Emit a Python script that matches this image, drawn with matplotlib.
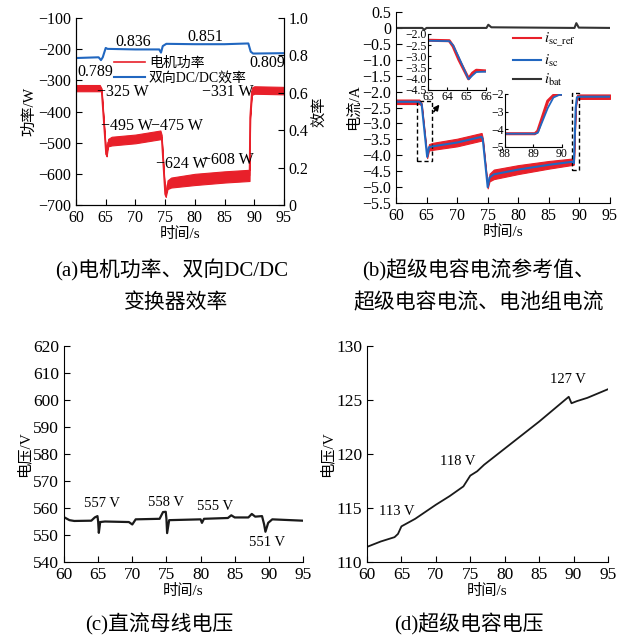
import matplotlib
matplotlib.use('Agg')
import matplotlib.pyplot as plt
from matplotlib.patches import Rectangle

plt.rcParams['font.family'] = ['Liberation Serif', 'Noto Sans CJK SC']
plt.rcParams['mathtext.fontset'] = 'stix'
plt.rcParams['axes.unicode_minus'] = True
plt.rcParams['xtick.direction'] = 'in'
plt.rcParams['ytick.direction'] = 'in'

RED = '#e8202a'
BLUE = '#2167c0'
DARK = '#333333'

# (a) motor power and DC/DC efficiency
t_pow = [60, 64.0, 64.3, 65.05, 65.15, 65.4, 66, 70, 74.2, 74.4, 75.0, 75.1, 75.4, 76, 80, 85, 89.2, 89.3, 89.6, 90, 95]
p_mot = [-325, -325, -330, -535, -540, -500, -495, -488, -475, -478, -665, -670, -635, -628, -618, -610, -605, -420, -335, -331, -333]
p_band = [10, 10, 4, 4, 4, 12, 14, 14, 14, 4, 4, 4, 14, 16, 18, 18, 18, 4, 12, 12, 12]
t_eff = [60, 63.8, 64.2, 64.5, 65.0, 65.3, 70, 74.0, 74.3, 74.6, 75.2, 80, 85, 89.0, 89.4, 89.8, 95]
eff = [0.786, 0.79, 0.775, 0.79, 0.84, 0.835, 0.832, 0.832, 0.815, 0.85, 0.862, 0.86, 0.86, 0.864, 0.82, 0.81, 0.812]

# (b) currents
t_cur = [60, 63.8, 64.2, 65.1, 65.4, 66, 70, 74.0, 74.2, 75.0, 75.3, 76, 80, 85, 89.0, 89.1, 89.4, 89.6, 90, 95]
i_sc = [-2.32, -2.32, -2.4, -4.05, -3.75, -3.72, -3.6, -3.42, -3.5, -5.0, -4.7, -4.6, -4.45, -4.3, -4.2, -4.25, -2.5, -2.18, -2.16, -2.16]
i_band = [0.07, 0.07, 0.04, 0.04, 0.1, 0.11, 0.12, 0.12, 0.04, 0.04, 0.12, 0.15, 0.14, 0.12, 0.1, 0.04, 0.04, 0.07, 0.07, 0.07]
t_bat = [60, 64.3, 64.6, 65.0, 74.8, 75.1, 75.6, 89.2, 89.5, 89.9, 95]
i_bat = [0, 0, -0.06, 0, 0, 0.1, 0.02, 0, 0.15, 0.01, 0]

t_in1 = [63, 64.1, 64.3, 64.6, 65.1, 65.3, 65.5, 66]
i_sc_in1 = [-2.3, -2.32, -2.5, -3.05, -4.02, -3.85, -3.7, -3.68]
i_ref_in1 = [-2.28, -2.3, -2.55, -3.15, -4.0, -3.75, -3.62, -3.65]
t_in2 = [88, 89.05, 89.15, 89.5, 89.7, 89.9, 90]
i_sc_in2 = [-4.25, -4.25, -4.2, -2.8, -2.2, -2.05, -2.05]
i_ref_in2 = [-4.25, -4.25, -4.1, -2.4, -2.08, -2.02, -2.02]

# (c) DC bus voltage
t_bus = [60, 60.8, 61.5, 64, 64.5, 64.9, 65.0, 65.1, 65.3, 66, 69.5, 70, 70.5, 74, 74.5, 74.9, 75.0, 75.1, 75.4,
         80, 80.2, 80.5, 84, 84.5, 85, 87, 87.5, 88, 89, 89.3, 89.5, 89.9, 90.5, 95]
v_bus = [556.6, 555.5, 555.2, 555.3, 556.5, 557, 555, 550.8, 554.8, 555, 554.8, 553.9, 555.8, 556, 558.5, 558.6, 556, 550.7, 555.5,
         555.8, 554.5, 556, 556.3, 557.3, 556.5, 556.5, 557.8, 556.8, 557, 554, 551.2, 554.5, 555.8, 555.3]

# (d) supercapacitor voltage
t_uc = [60, 62, 64, 64.5, 65, 67, 70, 72, 74, 75, 76, 77, 80, 85, 89.3, 89.7, 90.5, 92, 95]
v_uc = [111.4, 111.9, 112.3, 112.6, 113.3, 114.0, 115.3, 116.1, 117.0, 118.0, 118.4, 119.0, 120.5, 123.0, 125.3, 124.7, 124.9, 125.2, 126.0]

xt = [60, 65, 70, 75, 80, 85, 90, 95]
FS = 11.5    # ticks in (a), (b)
FS2 = 12.5   # ticks in (c), (d)
LS = 11      # axis labels

fig = plt.figure(figsize=(6.19, 6.39), dpi=100)


def style(ax, fs, right=False):
    ax.spines['top'].set_visible(False)
    if not right:
        ax.spines['right'].set_visible(False)
    ax.tick_params(labelsize=fs, length=4, width=0.8)
    ax.set_xlim(60, 95)
    ax.set_xticks(xt)
    ax.set_xlabel('时间/s', fontsize=LS, labelpad=1)


# ---- (a)
ax1 = fig.add_axes([0.1228, 0.6792, 0.336, 0.2926])
lo = [p - b for p, b in zip(p_mot, p_band)]
hi = [p + b for p, b in zip(p_mot, p_band)]
ax1.fill_between(t_pow, lo, hi, color=RED, lw=0.8)
l1, = ax1.plot(t_pow, p_mot, color=RED, lw=1.2, label='电机功率')
ax1.set_ylim(-700, -100)
ax1.set_yticks(range(-700, 0, 100))
ax1.set_ylabel('功率/W', fontsize=LS, labelpad=1)
style(ax1, FS, right=True)
ax2 = ax1.twinx()
l2, = ax2.plot(t_eff, eff, color=BLUE, lw=1.5, label='双向DC/DC效率')
ax2.set_ylim(0, 1.0)
ax2.set_yticks([0, 0.2, 0.4, 0.6, 0.8, 1.0])
ax2.set_yticklabels(['0', '0.2', '0.4', '0.6', '0.8', '1.0'])
ax2.spines['top'].set_visible(False)
ax2.tick_params(labelsize=FS, length=4, width=0.8, direction='in')
ax2.set_ylabel('效率', fontsize=LS, labelpad=3)
ax1.legend(handles=[l1, l2], loc='upper left', bbox_to_anchor=(0.15, 0.83), frameon=False,
           fontsize=10, handlelength=2.2, handletextpad=0.3, labelspacing=0.15, borderpad=0)
for x, y, s in [(69.6, 0.872, '0.836'), (81.7, 0.898, '0.851'), (63.2, 0.711, '0.789'), (92.2, 0.76, '0.809')]:
    ax2.text(x, y, s, ha='center', va='center', fontsize=FS)
for x, y, s in [(67.9, -337, '−325 W'), (85.6, -337, '−331 W'), (68.6, -446, '−495 W'),
                (77.0, -446, '−475 W'), (77.8, -568, '−624 W'), (85.6, -555, '−608 W')]:
    ax1.text(x, y, s, ha='center', va='center', fontsize=FS)

# ---- (b)
axb = fig.add_axes([0.6397, 0.6823, 0.3457, 0.2989])
lo = [v - b for v, b in zip(i_sc, i_band)]
hi = [v + b for v, b in zip(i_sc, i_band)]
axb.fill_between(t_cur, lo, hi, color=RED, lw=0.8)
lr, = axb.plot([], [], color=RED, lw=1.5, label=r'$i_{\rm sc\_ref}$')
lb, = axb.plot(t_cur, i_sc, color=BLUE, lw=1.5, label=r'$i_{\rm sc}$')
lk, = axb.plot(t_bat, i_bat, color=DARK, lw=1.5, label=r'$i_{\rm bat}$')
axb.set_ylim(-5.5, 0.5)
yt = [0.5 - 0.5 * k for k in range(13)]
axb.set_yticks(yt)
axb.set_yticklabels(['0' if abs(v) < 1e-9 else f'{v:.1f}'.replace('-', '−') for v in yt])
axb.set_ylabel('电流/A', fontsize=LS, labelpad=1)
style(axb, FS)
axb.add_patch(Rectangle((63.4, -4.19), 2.5, 1.9, fill=False, ls=(0, (3, 2)), lw=1.0, ec='black'))
axb.add_patch(Rectangle((88.8, -4.47), 1.1, 2.42, fill=False, ls=(0, (3, 2)), lw=1.0, ec='black'))
axb.annotate('', xy=(67.4, -2.34), xytext=(65.9, -2.7),
             arrowprops=dict(arrowstyle='-|>', color='black', lw=1.2, mutation_scale=8))
axb.legend(handles=[lr, lb, lk], loc='upper left', bbox_to_anchor=(0.515, 0.94), frameon=False,
           fontsize=10.5, handlelength=1.9, handletextpad=0.2, labelspacing=0.25, borderpad=0)

# insets
axi1 = fig.add_axes([0.6914, 0.8592, 0.0937, 0.0876])
axi1.plot(t_in1, i_ref_in1, color=RED, lw=2.2)
axi1.plot(t_in1, i_sc_in1, color=BLUE, lw=1.3)
axi1.set_xlim(63, 66)
axi1.set_ylim(-4.5, -2.0)
axi1.set_xticks([63, 64, 65, 66])
axi1.set_yticks([-2.0, -2.5, -3.0, -3.5, -4.0, -4.5])
axi1.set_yticklabels(['−2.0', '−2.5', '−3.0', '−3.5', '−4.0', '−4.5'])
axi1.spines['top'].set_visible(False)
axi1.spines['right'].set_visible(False)
axi1.tick_params(labelsize=8.5, length=2.5, pad=1)

axi2 = fig.add_axes([0.8158, 0.77, 0.0921, 0.0829])
axi2.plot(t_in2, i_ref_in2, color=RED, lw=2.2)
axi2.plot(t_in2, i_sc_in2, color=BLUE, lw=1.3)
axi2.set_xlim(88, 90)
axi2.set_ylim(-5, -2)
axi2.set_xticks([88, 89, 90])
axi2.set_yticks([-2, -3, -4, -5])
axi2.set_yticklabels(['−2', '−3', '−4', '−5'])
axi2.spines['top'].set_visible(False)
axi2.spines['right'].set_visible(False)
axi2.tick_params(labelsize=8.5, length=2.5, pad=1)

# ---- (c)
axc = fig.add_axes([0.1034, 0.1205, 0.3861, 0.338])
axc.plot(t_bus, v_bus, color='#1a1a1a', lw=1.6)
axc.set_ylim(540, 620)
axc.set_yticks(range(540, 621, 10))
axc.set_ylabel('电压/V', fontsize=LS, labelpad=1)
style(axc, FS2)
for x, y, s in [(65.6, 561.5, '557 V'), (74.9, 562.2, '558 V'), (82.1, 560.4, '555 V'), (89.7, 547.4, '551 V')]:
    axc.text(x, y, s, ha='center', va='center', fontsize=10.5)

# ---- (d)
axd = fig.add_axes([0.5929, 0.1205, 0.3893, 0.338])
axd.plot(t_uc, v_uc, color='#1a1a1a', lw=1.3)
axd.set_ylim(110, 130)
axd.set_yticks(range(110, 131, 5))
axd.set_ylabel('电压/V', fontsize=LS, labelpad=1)
style(axd, FS2)
for x, y, s in [(64.4, 114.7, '113 V'), (73.2, 119.3, '118 V'), (89.2, 126.9, '127 V')]:
    axd.text(x, y, s, ha='center', va='center', fontsize=10.5)

# captions
CF = 15
fig.text(0.277, 0.577, '(a)电机功率、双向DC/DC', ha='center', va='center', fontsize=CF)
fig.text(0.285, 0.526, '变换器效率', ha='center', va='center', fontsize=CF)
fig.text(0.773, 0.577, '(b)超级电容电流参考值、', ha='center', va='center', fontsize=CF)
fig.text(0.773, 0.526, '超级电容电流、电池组电流', ha='center', va='center', fontsize=CF)
fig.text(0.258, 0.005, '(c)直流母线电压', ha='center', va='bottom', fontsize=CF)
fig.text(0.757, 0.005, '(d)超级电容电压', ha='center', va='bottom', fontsize=CF)

plt.savefig('out.png', dpi=100)
